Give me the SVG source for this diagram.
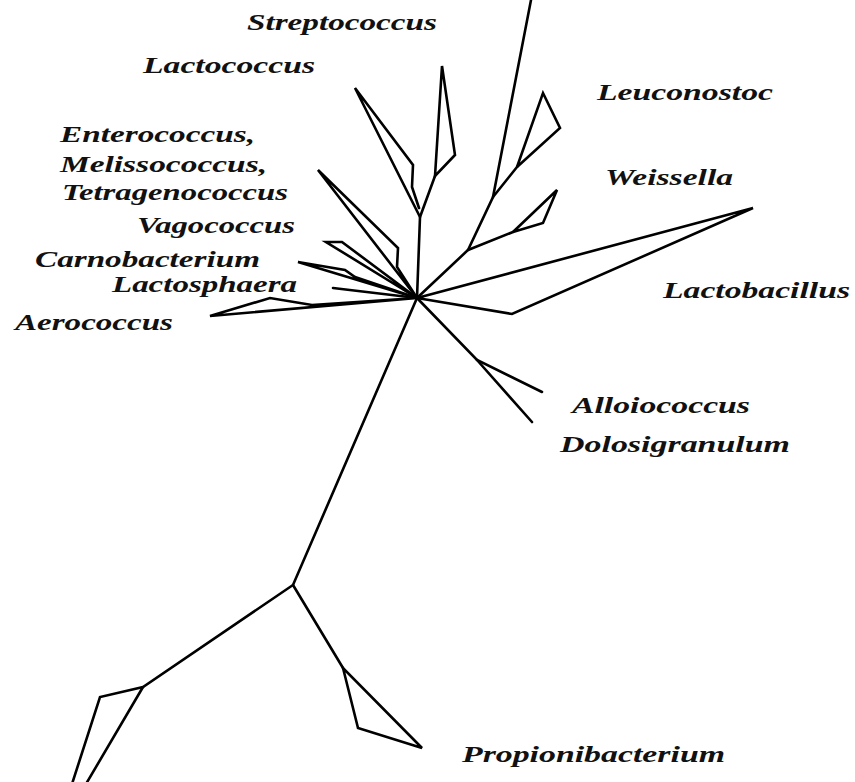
<svg xmlns="http://www.w3.org/2000/svg" width="855" height="782" viewBox="0 0 855 782">
<style>
.br{fill:none;stroke:#000;stroke-width:2.6;stroke-linejoin:miter;stroke-linecap:round}
.lb{font-family:"Liberation Serif","Times New Roman",serif;font-weight:bold;font-style:italic;font-size:24px;fill:#111}
</style>
<rect width="855" height="782" fill="#fff"/>
<g id="connectors">
<polyline class="br" points="417,298 468,250 493,197 531,0"/>
<polyline class="br" points="493,197 517,167"/>
<polygon class="br" points="517,167 543,93 560,128"/>
<polyline class="br" points="468,250 513,232"/>
<polygon class="br" points="513,232 557,190 543,223"/>
<polygon class="br" points="417,298 753,208 512,314"/>
<polyline class="br" points="417,298 477,360 542,392"/>
<polyline class="br" points="477,360 532,422"/>
<polyline class="br" points="417,298 420,217 355,88 413,165 412,187 419,208"/>
<polyline class="br" points="420,217 435,176"/>
<polygon class="br" points="435,176 442,66 455,155"/>
<polygon class="br" points="417,298 318,170 398,248 397,267"/>
<polygon class="br" points="417,298 326,242 342,242"/>
<polygon class="br" points="417,298 298,262 345,270 355,277"/>
<polyline class="br" points="333,288 417,298"/>
<polygon class="br" points="417,298 210,316 270,298 312,305"/>
<polyline class="br" points="417,298 293,585 143,687 100,697 72,784"/>
<polyline class="br" points="143,687 86,784"/>
<polyline class="br" points="293,585 343,668"/>
<polygon class="br" points="343,668 358,728 422,748"/>
</g>
<g id="streptococcus"><text class="lb" x="247" y="30" textLength="190" lengthAdjust="spacingAndGlyphs">Streptococcus</text></g>
<g id="lactococcus"><text class="lb" x="143" y="73" textLength="172" lengthAdjust="spacingAndGlyphs">Lactococcus</text></g>
<g id="enterococcus"><text class="lb" x="60" y="142" textLength="195" lengthAdjust="spacingAndGlyphs">Enterococcus,</text>
<text class="lb" x="60" y="172" textLength="207" lengthAdjust="spacingAndGlyphs">Melissococcus,</text>
<text class="lb" x="62" y="200" textLength="226" lengthAdjust="spacingAndGlyphs">Tetragenococcus</text></g>
<g id="vagococcus"><text class="lb" x="137" y="233" textLength="158" lengthAdjust="spacingAndGlyphs">Vagococcus</text></g>
<g id="carnobacterium"><text class="lb" x="35" y="267" textLength="225" lengthAdjust="spacingAndGlyphs">Carnobacterium</text></g>
<g id="lactosphaera"><text class="lb" x="112" y="292" textLength="185" lengthAdjust="spacingAndGlyphs">Lactosphaera</text></g>
<g id="aerococcus"><text class="lb" x="15" y="330" textLength="158" lengthAdjust="spacingAndGlyphs">Aerococcus</text></g>
<g id="leuconostoc"><text class="lb" x="597" y="100" textLength="176" lengthAdjust="spacingAndGlyphs">Leuconostoc</text></g>
<g id="weissella"><text class="lb" x="605" y="185" textLength="128" lengthAdjust="spacingAndGlyphs">Weissella</text></g>
<g id="lactobacillus"><text class="lb" x="663" y="298" textLength="187" lengthAdjust="spacingAndGlyphs">Lactobacillus</text></g>
<g id="alloiococcus"><text class="lb" x="572" y="413" textLength="178" lengthAdjust="spacingAndGlyphs">Alloiococcus</text></g>
<g id="dolosigranulum"><text class="lb" x="560" y="452" textLength="230" lengthAdjust="spacingAndGlyphs">Dolosigranulum</text></g>
<g id="propionibacterium"><text class="lb" x="462" y="762" textLength="263" lengthAdjust="spacingAndGlyphs">Propionibacterium</text></g>
</svg>
